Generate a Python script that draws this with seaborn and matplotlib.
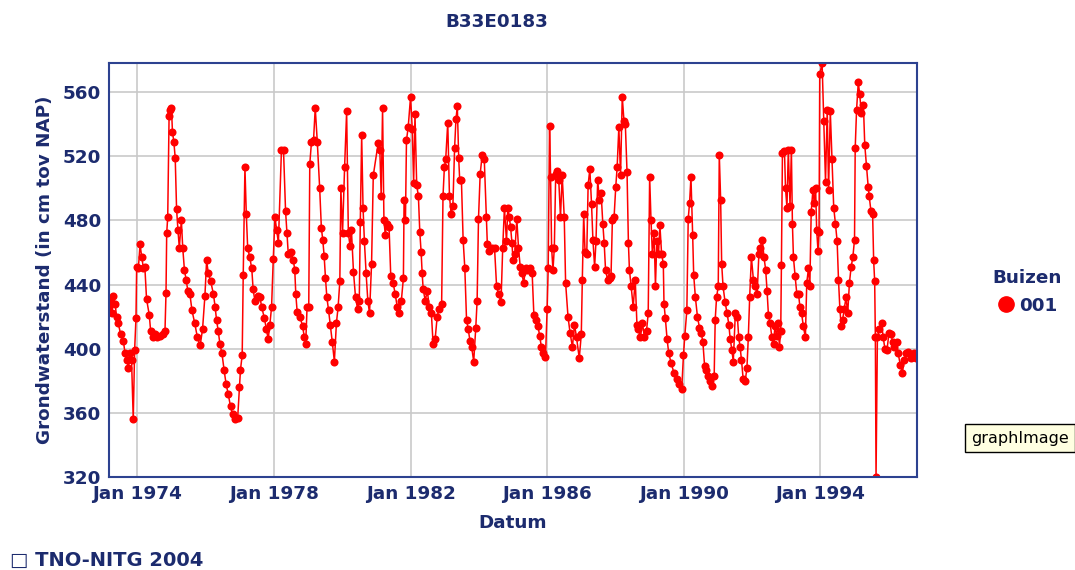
import numpy as np
import pandas as pd
import matplotlib
matplotlib.use("Agg")
import matplotlib.pyplot as plt
from matplotlib.lines import Line2D
from matplotlib.ticker import MultipleLocator
import seaborn as sns

# ---------------- data ----------------
title = "B33E0183"
series_name = "001"
legend_title = "Buizen"

years = [
    1973.17, 1973.20, 1973.25, 1973.30, 1973.35, 1973.39, 1973.44, 1973.51, 1973.59, 1973.64,
    1973.69, 1973.74, 1973.79, 1973.83, 1973.88, 1973.92, 1973.96, 1973.98, 1974.03, 1974.08,
    1974.13, 1974.18, 1974.22, 1974.27, 1974.35, 1974.39, 1974.45, 1974.52, 1974.59, 1974.66,
    1974.74, 1974.81, 1974.84, 1974.86, 1974.89, 1974.93, 1974.96, 1975.00, 1975.03, 1975.07,
    1975.11, 1975.15, 1975.19, 1975.23, 1975.29, 1975.33, 1975.38, 1975.43, 1975.48, 1975.54,
    1975.60, 1975.68, 1975.76, 1975.84, 1975.91, 1975.98, 1976.03, 1976.08, 1976.15, 1976.23,
    1976.28, 1976.32, 1976.37, 1976.42, 1976.48, 1976.54, 1976.60, 1976.66, 1976.73, 1976.79,
    1976.86, 1976.94, 1976.99, 1977.02, 1977.07, 1977.10, 1977.15, 1977.19, 1977.23, 1977.29,
    1977.35, 1977.39, 1977.44, 1977.52, 1977.59, 1977.64, 1977.72, 1977.78, 1977.83, 1977.88,
    1977.93, 1977.98, 1978.03, 1978.08, 1978.13, 1978.22, 1978.28, 1978.34, 1978.38, 1978.42,
    1978.50, 1978.57, 1978.61, 1978.64, 1978.68, 1978.76, 1978.84, 1978.89, 1978.93, 1978.97,
    1979.02, 1979.05, 1979.10, 1979.16, 1979.21, 1979.27, 1979.34, 1979.39, 1979.43, 1979.47,
    1979.51, 1979.55, 1979.60, 1979.65, 1979.71, 1979.77, 1979.83, 1979.88, 1979.93, 1979.96,
    1980.01, 1980.07, 1980.13, 1980.18, 1980.23, 1980.27, 1980.33, 1980.39, 1980.45, 1980.50,
    1980.53, 1980.57, 1980.61, 1980.65, 1980.70, 1980.75, 1980.80, 1980.86, 1980.91, 1981.05,
    1981.10, 1981.14, 1981.18, 1981.22, 1981.26, 1981.30, 1981.37, 1981.42, 1981.49, 1981.55,
    1981.61, 1981.67, 1981.73, 1981.79, 1981.81, 1981.85, 1981.88, 1981.93, 1982.00, 1982.05,
    1982.09, 1982.13, 1982.18, 1982.23, 1982.27, 1982.31, 1982.34, 1982.37, 1982.43, 1982.49,
    1982.55, 1982.61, 1982.66, 1982.72, 1982.78, 1982.84, 1982.91, 1982.95, 1982.99, 1983.03,
    1983.09, 1983.14, 1983.19, 1983.24, 1983.29, 1983.33, 1983.37, 1983.41, 1983.44, 1983.49,
    1983.54, 1983.59, 1983.64, 1983.69, 1983.74, 1983.79, 1983.85, 1983.91, 1983.95, 1983.99,
    1984.04, 1984.10, 1984.16, 1984.22, 1984.25, 1984.30, 1984.38, 1984.46, 1984.52, 1984.58,
    1984.65, 1984.70, 1984.75, 1984.81, 1984.85, 1984.89, 1984.93, 1984.97, 1985.00, 1985.05,
    1985.11, 1985.16, 1985.21, 1985.26, 1985.31, 1985.37, 1985.42, 1985.49, 1985.56, 1985.61,
    1985.67, 1985.73, 1985.78, 1985.83, 1985.89, 1985.95, 1986.00, 1986.03, 1986.07, 1986.10,
    1986.13, 1986.17, 1986.21, 1986.25, 1986.29, 1986.34, 1986.39, 1986.44, 1986.50, 1986.54,
    1986.61, 1986.67, 1986.74, 1986.80, 1986.86, 1986.94, 1987.00, 1987.03, 1987.07, 1987.11,
    1987.16, 1987.20, 1987.25, 1987.30, 1987.34, 1987.39, 1987.43, 1987.48, 1987.53, 1987.58,
    1987.63, 1987.67, 1987.71, 1987.77, 1987.83, 1987.87, 1987.91, 1987.96, 1988.01, 1988.05,
    1988.10, 1988.15, 1988.20, 1988.25, 1988.29, 1988.34, 1988.38, 1988.41, 1988.46, 1988.52,
    1988.58, 1988.63, 1988.67, 1988.73, 1988.79, 1988.85, 1988.91, 1988.96, 1989.00, 1989.04,
    1989.08, 1989.13, 1989.17, 1989.21, 1989.26, 1989.30, 1989.35, 1989.40, 1989.42, 1989.46,
    1989.51, 1989.56, 1989.63, 1989.71, 1989.79, 1989.86, 1989.94, 1989.99, 1990.03, 1990.09,
    1990.13, 1990.17, 1990.21, 1990.26, 1990.29, 1990.34, 1990.40, 1990.46, 1990.51, 1990.56,
    1990.61, 1990.66, 1990.72, 1990.78, 1990.84, 1990.89, 1990.92, 1990.96, 1991.01, 1991.04,
    1991.08, 1991.11, 1991.15, 1991.21, 1991.27, 1991.32, 1991.36, 1991.41, 1991.45, 1991.51,
    1991.57, 1991.61, 1991.65, 1991.69, 1991.74, 1991.80, 1991.85, 1991.89, 1991.93, 1991.98,
    1992.04, 1992.09, 1992.15, 1992.20, 1992.24, 1992.30, 1992.35, 1992.40, 1992.44, 1992.48,
    1992.53, 1992.58, 1992.63, 1992.67, 1992.72, 1992.77, 1992.80, 1992.84, 1992.86, 1992.89,
    1992.95, 1992.98, 1993.02, 1993.06, 1993.11, 1993.15, 1993.18, 1993.21, 1993.26, 1993.31,
    1993.36, 1993.40, 1993.45, 1993.50, 1993.56, 1993.60, 1993.65, 1993.69, 1993.73, 1993.78,
    1993.82, 1993.86, 1993.89, 1993.93, 1993.96, 1993.98, 1994.05, 1994.10, 1994.15, 1994.20,
    1994.24, 1994.29, 1994.34, 1994.39, 1994.44, 1994.49, 1994.53, 1994.57, 1994.61, 1994.65,
    1994.70, 1994.75, 1994.80, 1994.85, 1994.90, 1994.95, 1995.00, 1995.02, 1995.06, 1995.11,
    1995.15, 1995.20, 1995.26, 1995.30, 1995.35, 1995.40, 1995.43, 1995.48, 1995.53, 1995.56,
    1995.59, 1995.61, 1995.63, 1995.67, 1995.73, 1995.79, 1995.84, 1995.89, 1995.95, 1996.01,
    1996.07, 1996.12, 1996.17, 1996.23, 1996.28, 1996.34, 1996.40, 1996.46, 1996.52, 1996.58,
    1996.64, 1996.69, 1996.75, 1996.81, 1996.84,
]

levels = [
    426, 430, 422, 433, 428, 420, 416, 409, 405, 397,
    393, 388, 397, 393, 356, 399, 419, 451, 450, 465,
    457, 450, 451, 431, 421, 411, 407, 409, 407, 408,
    409, 411, 435, 472, 482, 545, 549, 550, 535, 529,
    519, 487, 474, 463, 480, 463, 449, 443, 436, 434,
    424, 416, 407, 402, 412, 433, 455, 447, 442, 434,
    426, 418, 411, 403, 397, 387, 378, 372, 364, 359,
    356, 357, 376, 387, 396, 446, 513, 484, 463, 457,
    450, 437, 430, 433, 432, 426, 419, 412, 406, 415,
    426, 456, 482, 474, 466, 524, 524, 486, 472, 459,
    460, 455, 449, 434, 423, 420, 414, 407, 403, 426,
    426, 515, 529, 530, 550, 529, 500, 475, 468, 458,
    444, 432, 424, 415, 404, 392, 416, 426, 442, 500,
    472, 513, 548, 472, 464, 474, 448, 432, 425, 430,
    479, 533, 488, 467, 447, 430, 422, 453, 508, 528,
    524, 495, 550, 480, 471, 478, 476, 445, 441, 434,
    426, 422, 430, 444, 493, 480, 530, 538, 557, 537,
    503, 546, 502, 495, 473, 460, 447, 437, 430, 436,
    426, 422, 403, 406, 420, 425, 428, 495, 513, 518,
    541, 495, 484, 489, 525, 543, 551, 519, 505, 505,
    468, 450, 418, 412, 405, 401, 392, 413, 430, 481,
    509, 521, 518, 482, 465, 461, 463, 463, 439, 434,
    429, 463, 488, 467, 488, 482, 476, 466, 455, 459,
    481, 463, 451, 447, 441, 450, 449, 450, 447, 421,
    418, 414, 408, 401, 397, 395, 425, 450, 539, 507,
    463, 449, 463, 509, 511, 505, 482, 508, 482, 441,
    420, 410, 401, 415, 407, 394, 409, 443, 484, 460,
    459, 502, 512, 490, 468, 451, 467, 505, 493, 497,
    478, 466, 449, 443, 444, 445, 480, 482, 501, 513,
    538, 508, 557, 542, 540, 510, 466, 449, 439, 426,
    443, 415, 412, 407, 416, 407, 411, 422, 507, 480,
    459, 472, 439, 467, 459, 477, 459, 453, 428, 419,
    406, 397, 391, 385, 381, 378, 375, 396, 408, 424,
    481, 491, 507, 471, 446, 432, 420, 413, 410, 404,
    389, 387, 383, 380, 377, 383, 418, 432, 439, 521,
    493, 453, 439, 429, 422, 415, 406, 399, 392, 422,
    420, 407, 401, 393, 381, 380, 388, 407, 432, 457,
    443, 439, 434, 459, 463, 468, 457, 449, 436, 421,
    416, 407, 403, 414, 408, 416, 401, 411, 452, 522,
    523, 500, 488, 524, 489, 524, 478, 457, 445, 434,
    434, 426, 422, 414, 407, 441, 450, 439, 485, 499,
    491, 500, 474, 461, 473, 571, 578, 542, 504, 549,
    499, 548, 518, 488, 478, 467, 443, 425, 414, 418,
    425, 432, 422, 441, 451, 457, 468, 525, 549, 566,
    559, 547, 552, 527, 514, 501, 495, 486, 484, 455,
    442, 407, 320, 407, 412, 416, 407, 400, 399, 410,
    409, 404, 401, 404, 397, 390, 385, 393, 397, 398,
    394, 395, 397, 394, 395,
]

y_ticks = [320, 360, 400, 440, 480, 520, 560]
x_tick_years = [1974, 1978, 1982, 1986, 1990, 1994]
x_tick_labels = ["Jan 1974", "Jan 1978", "Jan 1982", "Jan 1986", "Jan 1990", "Jan 1994"]
x_limits_years = (1973.17, 1996.83)
y_limits = (320, 578.1)


def to_date(y):
    yi = int(np.floor(y))
    return pd.Timestamp(f"{yi}-01-01") + pd.to_timedelta((y - yi) * 365.25, unit="D")


df = pd.DataFrame({"Datum": [to_date(y) for y in years], "Stand": levels})

# ---------------- styling ----------------
sns.set_style("white")
plt.rcParams["font.family"] = ["DejaVu Sans"]
NAVY = "#1c2b6e"
AXIS = "#2d4290"
RED = "#ff0000"
GRID = "#c9c9c9"
FS = 13.2

fig = plt.figure(figsize=(10.75, 5.70), dpi=100)
ax = fig.add_axes([109 / 1075, 1 - 477 / 570, 808 / 1075, 414 / 570])

sns.lineplot(data=df, x="Datum", y="Stand", ax=ax, color=RED, linewidth=1.1,
             marker="o", markersize=5.8, markeredgewidth=0, estimator=None,
             sort=False, legend=False)

ax.set_xlim(to_date(x_limits_years[0]), to_date(x_limits_years[1]))
ax.set_ylim(*y_limits)

ax.set_xticks([pd.Timestamp(f"{y}-01-01") for y in x_tick_years])
ax.set_xticklabels(x_tick_labels)
ax.set_yticks(y_ticks)
ax.yaxis.set_minor_locator(MultipleLocator(20))

ax.grid(True, which="major", color=GRID, linewidth=1.2)
ax.set_axisbelow(True)
for s in ax.spines.values():
    s.set_color(AXIS)
    s.set_linewidth(1.5)

ax.tick_params(axis="both", which="major", direction="inout", length=7, width=1.3,
               color=AXIS, labelcolor=NAVY, labelsize=FS)
ax.tick_params(axis="y", which="minor", direction="inout", length=6, width=1.3, color=AXIS)
ax.tick_params(axis="x", pad=2)
ax.tick_params(axis="y", pad=2)
for lab in ax.get_xticklabels() + ax.get_yticklabels():
    lab.set_fontweight("bold")

ax.set_xlabel("Datum", fontsize=FS, fontweight="bold", color=NAVY)
ax.set_ylabel("Grondwaterstand (in cm tov NAP)", fontsize=FS, fontweight="bold", color=NAVY)
ax.xaxis.set_label_coords(0.5, -0.09)
ax.yaxis.set_label_coords(-0.068, 0.5)

fig.text(497 / 1075, 1 - 22 / 570, title, ha="center", va="center",
         fontsize=FS, fontweight="bold", color=NAVY)

handle = Line2D([], [], marker="o", color=RED, linestyle="none", markersize=11)
leg = ax.legend(handles=[handle], labels=[series_name], title=legend_title,
                loc="center", bbox_to_anchor=(1027 / 1075, 1 - 292 / 570),
                bbox_transform=fig.transFigure, frameon=False, fontsize=FS,
                handletextpad=0.2, handlelength=1.0, borderpad=0)
leg.get_title().set_fontweight("bold")
leg.get_title().set_color(NAVY)
leg.get_title().set_fontsize(FS)
for t in leg.get_texts():
    t.set_fontweight("bold")
    t.set_color(NAVY)

fig.text(10 / 1075, 1 - 560 / 570, "\u25a1 TNO-NITG 2004", ha="left", va="center",
         fontsize=14, fontweight="bold", color=NAVY)

fig.text(971 / 1075, 1 - 438 / 570, "graphImage", ha="left", va="center",
         fontsize=11.5, color="black",
         bbox=dict(boxstyle="square,pad=0.4", fc="#ffffe1", ec="black", lw=1))

fig.savefig("out.png", dpi=100, facecolor="white")
